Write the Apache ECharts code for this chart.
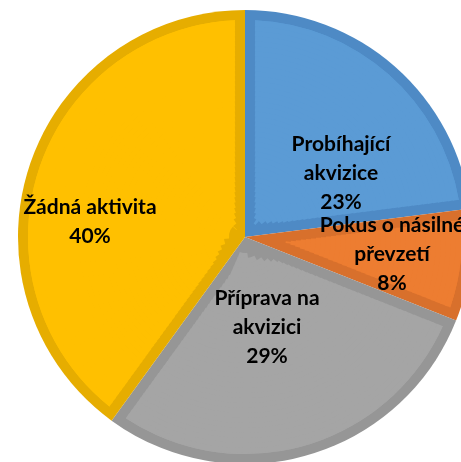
<!DOCTYPE html>
<html>
<head>
<meta charset="utf-8">
<script src="https://cdn.jsdelivr.net/npm/echarts@6/dist/echarts.min.js"></script>
<style>
  html, body { margin: 0; padding: 0; background: #fff; }
  #main { width: 461px; height: 462px; }
</style>
</head>
<body>
<div id="main"></div>
<script>
var categories = ['Probíhající\nakvizice', 'Pokus o násilné\npřevzetí', 'Příprava na\nakvizici', 'Žádná aktivita'];
var values = [23, 8, 29, 40];
var fillColors = ['#5B9BD5', '#ED7D31', '#A5A5A5', '#FFC000'];
var edgeColors = ['#4E8AC5', '#D8702C', '#969696', '#E6AD00'];

var CX = 245, CY = 237, R = 227, INSET = 10;
// where each label block sits, relative to the pie centre
var labelOffsets = [[96, -64], [147, 17], [22, 90], [-155, -15]];

function pieData(colors) {
  return categories.map(function (name, i) {
    return { name: name, value: values[i], itemStyle: { color: colors[i] } };
  });
}

// dark slices = the thick slice borders
var series = [{
  type: 'pie', center: [CX, CY], radius: [0, R], z: 1, silent: true,
  label: { show: false }, labelLine: { show: false },
  data: pieData(edgeColors)
}];

// lighter fill, split into thin rings so the inset stays about INSET px wide
var ringStep = 5;
for (var r0 = 11; r0 < R - INSET; r0 += ringStep) {
  var r1 = Math.min(r0 + ringStep, R - INSET);
  var rMid = (r0 + r1) / 2;
  series.push({
    type: 'pie', center: [CX, CY], radius: [r0, r1 < R - INSET ? r1 + 1 : r1], z: 2, silent: true,
    padAngle: 2 * Math.asin(Math.min(1, INSET / rMid)) * 180 / Math.PI,
    label: { show: false }, labelLine: { show: false },
    data: pieData(fillColors)
  });
}

// labels on top
series.push({
  type: 'pie', center: [CX, CY], radius: [0, R], z: 3, silent: true,
  itemStyle: { color: 'rgba(0,0,0,0)' },
  label: {
    show: true, position: 'inside', formatter: '{b}\n{d}%',
    fontFamily: 'Lato', fontWeight: 'bold', fontSize: 21, lineHeight: 29,
    color: '#000', align: 'center'
  },
  labelLine: { show: false },
  labelLayout: function (params) {
    var o = labelOffsets[params.dataIndex];
    return { x: CX + o[0], y: CY + o[1], align: 'center', verticalAlign: 'middle' };
  },
  data: categories.map(function (name, i) { return { name: name, value: values[i] }; })
});

var myChart = echarts.init(document.getElementById('main'));
myChart.setOption({ animation: false, series: series });
</script>
</body>
</html>
